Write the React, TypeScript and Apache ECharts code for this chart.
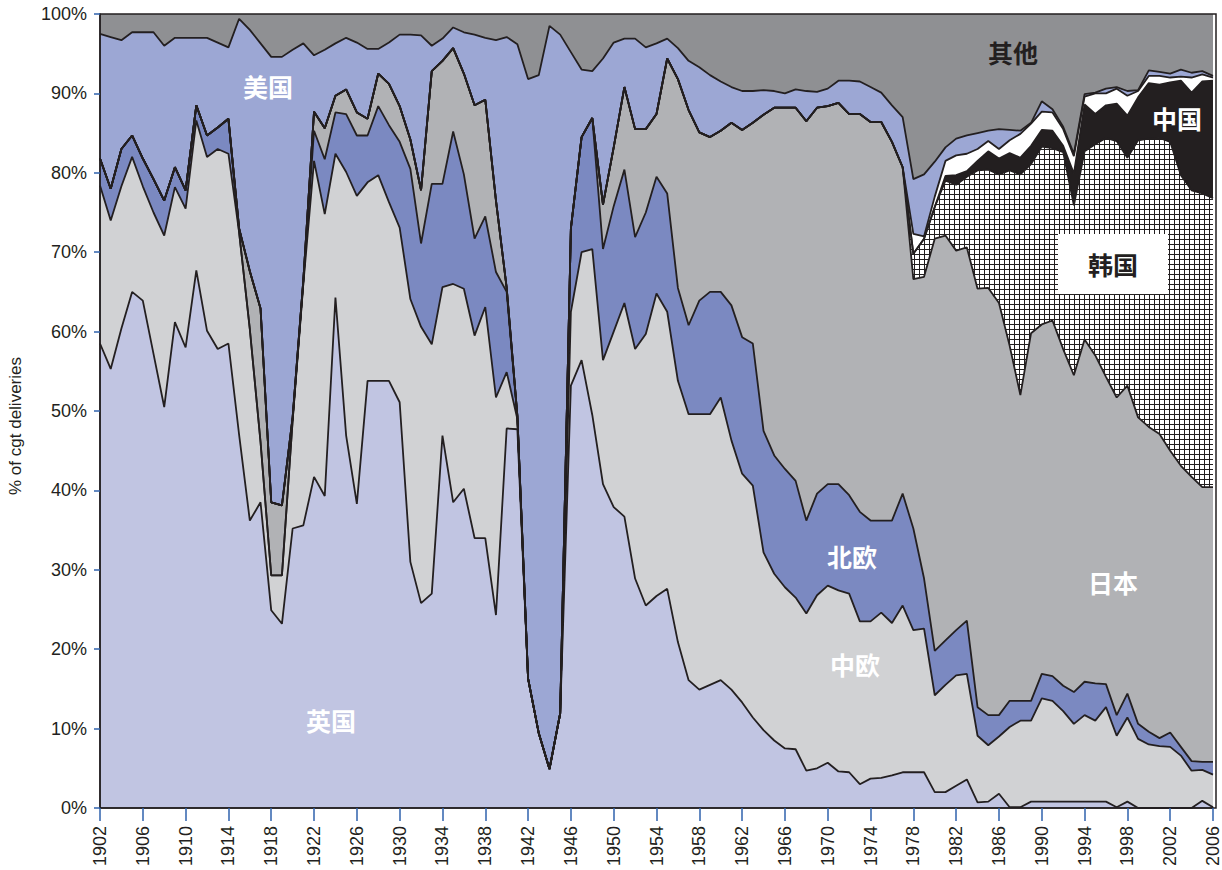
import React, { useEffect, useRef } from 'react';
import * as echarts from 'echarts';

const years: string[] = [];
for (let y = 1902; y <= 2006; y++) years.push(String(y));

// shares (% of cgt deliveries), 1902-2006, stacked bottom to top
const uk = [
  58.5, 55.3, 60.4, 65.0, 63.9, 57.2, 50.5, 61.2, 58.0, 67.7,
  60.1, 57.8, 58.5, 47.0, 36.2, 38.5, 24.9, 23.2, 35.2, 35.6,
  41.7, 39.3, 64.3, 46.9, 38.3, 53.8, 53.8, 53.8, 51.1, 31.0,
  25.8, 27.0, 46.9, 38.5, 40.2, 34.0, 34.0, 24.3, 47.8, 47.7,
  16.3, 9.4, 4.9, 11.9, 53.2, 56.4, 49.5, 40.8, 37.9, 36.7,
  28.9, 25.5, 26.7, 27.6, 20.9, 16.1, 14.9, 15.5, 16.1, 14.9,
  13.3, 11.4, 9.8, 8.5, 7.5, 7.4, 4.7, 5.0, 5.7, 4.6,
  4.5, 3.0, 3.7, 3.8, 4.1, 4.5, 4.5, 4.5, 2.0, 2.0,
  2.8, 3.6, 0.7, 0.8, 1.8, 0.1, 0.1, 0.8, 0.8, 0.8,
  0.8, 0.8, 0.8, 0.8, 0.8, 0.1, 0.8, 0, 0, 0,
  0, 0, 0, 0.9, 0.1,
];
const centralEurope = [
  19.9, 18.7, 17.9, 17.0, 14.4, 17.8, 21.6, 17.0, 17.5, 18.9,
  21.9, 25.2, 23.9, 25.5, 24.1, 7.6, 4.4, 6.1, 13.6, 30.4,
  39.8, 35.5, 18.1, 33.2, 38.8, 25.0, 25.9, 22.5, 22.0, 33.1,
  34.8, 31.4, 18.7, 27.5, 25.2, 25.5, 29.1, 27.4, 7.1, 1.3,
  0, 0, 0, 0, 9.3, 13.6, 20.9, 15.6, 22.1, 26.9,
  28.9, 34.2, 38.1, 34.9, 32.9, 33.5, 34.7, 34.1, 35.6, 31.4,
  28.8, 29.2, 22.4, 21.0, 20.3, 19.1, 19.8, 21.8, 22.3, 22.8,
  22.5, 20.5, 19.8, 20.8, 19.2, 21.0, 17.9, 18.1, 12.2, 13.5,
  13.9, 13.3, 8.4, 7.1, 7.2, 10.1, 10.9, 10.2, 13.0, 12.7,
  11.4, 9.8, 10.9, 10.2, 11.9, 9.0, 10.6, 8.7, 8.0, 7.8,
  7.7, 6.6, 4.7, 3.9, 4.1,
];
const northEurope = [
  3.4, 4.0, 4.7, 2.7, 3.5, 4.2, 4.4, 2.5, 2.3, 1.9,
  2.7, 2.7, 4.4, 0, 0, 0, 0, 0, 0, 0.2,
  3.8, 6.9, 5.2, 7.3, 7.6, 5.9, 8.7, 9.7, 10.8, 16.4,
  10.5, 20.2, 13.0, 19.2, 14.4, 12.2, 11.4, 15.8, 10.1, 0.2,
  0, 0, 0, 0, 10.5, 14.5, 16.5, 14.0, 15.8, 16.8,
  14.1, 15.3, 14.7, 14.9, 11.7, 11.2, 14.3, 15.4, 13.3, 17.0,
  17.2, 17.9, 15.3, 14.9, 14.9, 14.7, 11.7, 12.8, 12.8, 13.4,
  12.4, 13.8, 12.7, 11.6, 12.9, 14.1, 12.8, 6.3, 5.6, 5.6,
  5.7, 6.7, 3.6, 3.8, 2.7, 3.3, 2.5, 2.5, 3.1, 3.1,
  3.2, 4.0, 4.2, 4.7, 2.9, 2.6, 3.0, 1.9, 1.6, 1.0,
  1.8, 1.1, 1.2, 1.0, 1.6,
];
const japan = [
  0, 0, 0, 0, 0, 0, 0, 0, 0, 0,
  0, 0, 0, 0.5, 7.3, 16.8, 9.2, 8.8, 0.4, 0.3,
  2.4, 3.9, 2.1, 3.1, 2.9, 2.1, 4.1, 5.2, 4.5, 3.7,
  6.7, 14.2, 15.5, 10.5, 12.7, 16.8, 14.7, 9.0, 0.5, 0.2,
  0, 0, 0, 0, 0, 0, 0, 5.6, 7.4, 10.4,
  13.6, 10.5, 7.9, 17.0, 26.3, 27.1, 21.2, 19.5, 20.3, 23.0,
  26.1, 27.8, 39.8, 43.8, 45.5, 47.0, 50.3, 48.6, 47.6, 48.0,
  48.0, 50.1, 50.2, 50.2, 47.7, 41.1, 31.4, 38.0, 51.9, 51.0,
  47.8, 47.0, 52.7, 53.8, 51.9, 44.7, 38.5, 46.3, 44.0, 44.8,
  42.4, 39.9, 43.1, 41.3, 38.7, 40.0, 38.8, 38.6, 38.4, 38.3,
  35.5, 35.4, 35.8, 34.6, 34.6,
];
const korea = [
  0, 0, 0, 0, 0, 0, 0, 0, 0, 0,
  0, 0, 0, 0, 0, 0, 0, 0, 0, 0,
  0, 0, 0, 0, 0, 0, 0, 0, 0, 0,
  0, 0, 0, 0, 0, 0, 0, 0, 0, 0,
  0, 0, 0, 0, 0, 0, 0, 0, 0, 0,
  0, 0, 0, 0, 0, 0, 0, 0, 0, 0,
  0, 0, 0, 0, 0, 0, 0, 0, 0, 0,
  0, 0, 0, 0, 0, 0, 3.2, 4.8, 4.0, 6.9,
  8.3, 8.9, 14.9, 14.9, 16.2, 22.1, 27.8, 21.3, 22.4, 21.7,
  24.8, 21.4, 23.7, 26.6, 30.1, 32.3, 28.7, 34.9, 36.3, 37.3,
  38.9, 36.6, 36.1, 37.0, 36.4,
];
const china = [
  0, 0, 0, 0, 0, 0, 0, 0, 0, 0,
  0, 0, 0, 0, 0, 0, 0, 0, 0, 0,
  0, 0, 0, 0, 0, 0, 0, 0, 0, 0,
  0, 0, 0, 0, 0, 0, 0, 0, 0, 0,
  0, 0, 0, 0, 0, 0, 0, 0, 0, 0,
  0, 0, 0, 0, 0, 0, 0, 0, 0, 0,
  0, 0, 0, 0, 0, 0, 0, 0, 0, 0,
  0, 0, 0, 0, 0, 0, 0, 0, 0, 0.6,
  1.2, 0.7, 1.2, 2.3, 2.0, 2.2, 2.1, 2.3, 2.1, 2.2,
  0.8, 4.0, 5.9, 3.8, 4.1, 4.7, 5.3, 5.4, 7.0, 6.7,
  7.5, 11.9, 12.3, 14.1, 14.8,
];
const otherAsia = [
  0, 0, 0, 0, 0, 0, 0, 0, 0, 0,
  0, 0, 0, 0, 0, 0, 0, 0, 0, 0,
  0, 0, 0, 0, 0, 0, 0, 0, 0, 0,
  0, 0, 0, 0, 0, 0, 0, 0, 0, 0,
  0, 0, 0, 0, 0, 0, 0, 0, 0, 0,
  0, 0, 0, 0, 0, 0, 0, 0, 0, 0,
  0, 0, 0, 0, 0, 0, 0, 0, 0, 0,
  0, 0, 0, 0, 0, 0, 2.5, 0.3, 1.3, 1.9,
  2.5, 2.2, 1.5, 1.3, 1.2, 1.6, 3.0, 2.8, 2.3, 2.3,
  2.1, 2.2, 1.0, 2.6, 1.5, 1.9, 2.5, 0.8, 0.9, 1.1,
  0.6, 0.5, 1.9, 0.9, 0.4,
];
const usa = [
  15.7, 19.1, 13.7, 13.0, 15.9, 18.5, 19.5, 16.3, 19.2, 8.5,
  12.3, 10.7, 9.0, 26.4, 30.4, 33.4, 56.1, 56.5, 46.3, 29.8,
  7.1, 9.9, 6.6, 6.5, 8.8, 8.8, 3.1, 5.2, 9.0, 13.2,
  19.5, 3.2, 2.8, 2.6, 5.2, 8.9, 7.8, 20.2, 31.6, 46.8,
  75.5, 82.9, 93.6, 85.5, 22.2, 8.5, 5.9, 18.4, 13.2, 6.1,
  11.4, 10.3, 8.9, 2.5, 3.9, 6.2, 8.2, 7.8, 6.2, 4.5,
  4.9, 4.0, 3.1, 2.1, 1.8, 2.3, 3.8, 2.0, 2.2, 2.8,
  4.2, 4.1, 4.4, 3.7, 4.6, 6.3, 6.9, 7.8, 4.4, 1.7,
  2.1, 2.3, 2.0, 1.3, 2.5, 1.3, 0.4, 0.1, 1.3, 0.4,
  0.3, 0.3, 0.3, 0.1, 0.6, 0.2, 0.6, 0.1, 0.7, 0.5,
  0.5, 0.9, 0.6, 0.4, 0.2,
];
const others = [
  2.5, 2.9, 3.3, 2.3, 2.3, 2.3, 4.0, 3.0, 3.0, 3.0,
  3.0, 3.6, 4.2, 0.6, 2.0, 3.7, 5.4, 5.4, 4.5, 3.7,
  5.2, 4.5, 3.7, 3.0, 3.6, 4.4, 4.4, 3.6, 2.6, 2.6,
  2.7, 4.0, 3.1, 1.7, 2.4, 2.6, 3.0, 3.3, 2.9, 3.8,
  8.2, 7.7, 1.5, 2.6, 4.8, 7.0, 7.2, 5.6, 3.6, 3.1,
  3.1, 4.2, 3.7, 3.1, 4.3, 5.9, 6.7, 7.7, 8.5, 9.2,
  9.7, 9.7, 9.6, 9.7, 10.0, 9.5, 9.7, 9.8, 9.4, 8.4,
  8.4, 8.5, 9.2, 9.9, 11.5, 13.0, 20.8, 20.2, 18.6, 16.8,
  15.7, 15.3, 15.0, 14.8, 14.6, 14.6, 14.7, 13.7, 11.1, 12.0,
  14.2, 17.6, 10.2, 9.9, 9.4, 9.2, 9.7, 9.6, 7.1, 7.3,
  7.5, 7.0, 7.4, 7.2, 7.8,
];

const yTicks = [0, 10, 20, 30, 40, 50, 60, 70, 80, 90, 100];

const INK = '#231f20';
const TICK = '#2f62ad';

function makeHatch(): HTMLCanvasElement {
  const c = document.createElement('canvas');
  c.width = 5;
  c.height = 5;
  const ctx = c.getContext('2d')!;
  ctx.fillStyle = '#ffffff';
  ctx.fillRect(0, 0, 5, 5);
  ctx.fillStyle = INK;
  ctx.fillRect(4, 0, 1, 5);
  ctx.fillRect(0, 4, 5, 1);
  return c;
}

export default function App() {
  const ref = useRef<HTMLDivElement>(null);
  useEffect(() => {
    document.body.style.margin = '0';
    const chart = echarts.init(ref.current!, undefined, { renderer: 'svg' });
    const hatch: any = { image: makeHatch(), repeat: 'repeat', imageWidth: 5, imageHeight: 5 };
    const layers: { name: string; data: number[]; color: any; line: boolean }[] = [
      { name: '英国', data: uk, color: '#c1c5e2', line: true },
      { name: '中欧', data: centralEurope, color: '#d1d2d4', line: true },
      { name: '北欧', data: northEurope, color: '#7b89c1', line: true },
      { name: '日本', data: japan, color: '#b1b2b5', line: true },
      { name: '韩国', data: korea, color: hatch, line: true },
      { name: '中国', data: china, color: INK, line: true },
      { name: '其他亚洲', data: otherAsia, color: '#ffffff', line: true },
      { name: '美国', data: usa, color: '#9ca7d4', line: true },
      { name: '其他', data: others, color: '#8f9093', line: false },
    ];
    const series: any[] = [];
    layers.forEach((l) => {
      series.push({
        name: l.name,
        type: 'line',
        stack: 'areas',
        data: l.data,
        symbol: 'none',
        showSymbol: false,
        silent: true,
        lineStyle: { width: 0, opacity: 0 },
        areaStyle: { color: l.color, opacity: 1 },
        z: 2,
      });
    });
    layers.forEach((l) => {
      series.push({
        name: l.name + '-边线',
        type: 'line',
        stack: 'lines',
        data: l.data,
        symbol: 'none',
        showSymbol: false,
        silent: true,
        lineStyle: { width: l.line ? 1.8 : 0, color: INK, opacity: l.line ? 1 : 0 },
        z: 3,
      });
    });

    const cjk = '"Noto Sans CJK SC", "Noto Sans", sans-serif';
    const labels = [
      { text: '美国', x: 268, y: 86, color: '#ffffff' },
      { text: '英国', x: 331, y: 720, color: '#ffffff' },
      { text: '北欧', x: 852, y: 556, color: '#ffffff' },
      { text: '中欧', x: 855, y: 664, color: '#ffffff' },
      { text: '日本', x: 1113, y: 582, color: '#ffffff' },
      { text: '其他', x: 1013, y: 52, color: INK },
      { text: '中国', x: 1177, y: 118, color: '#ffffff' },
      { text: '韩国', x: 1113, y: 264, color: INK },
    ];

    const graphic: any[] = [
      {
        type: 'rect',
        z: 10,
        shape: { x: 1058, y: 234, width: 110, height: 60 },
        style: { fill: '#ffffff' },
      },
      ...labels.map((l) => ({
        type: 'text',
        z: 11,
        x: l.x,
        y: l.y,
        style: {
          text: l.text,
          fill: l.color,
          font: `bold 25px ${cjk}`,
          align: 'center',
          verticalAlign: 'middle',
        },
      })),
      {
        type: 'rect',
        z: 12,
        shape: { x: 100, y: 14, width: 1116, height: 794 },
        style: { fill: 'none', stroke: INK, lineWidth: 1.5 },
      },
      {
        type: 'text',
        z: 12,
        x: 15,
        y: 426,
        rotation: Math.PI / 2,
        style: {
          text: '% of cgt deliveries',
          fill: INK,
          font: '17px "Liberation Sans", Arial, sans-serif',
          align: 'center',
          verticalAlign: 'middle',
        },
      },
    ];

    chart.setOption({
      animation: false,
      backgroundColor: '#ffffff',
      grid: { left: 100, right: 6, top: 14, bottom: 62, containLabel: false },
      xAxis: {
        type: 'category',
        data: years,
        boundaryGap: false,
        axisLine: { show: true, lineStyle: { color: INK, width: 1.5 } },
        axisTick: { show: true, interval: 3, length: 13, lineStyle: { color: TICK, width: 1.5 } },
        axisLabel: {
          interval: 3,
          rotate: 90,
          margin: 18,
          fontSize: 18,
          color: INK,
          fontFamily: '"Liberation Sans", Arial, sans-serif',
        },
        splitLine: { show: false },
        z: 12,
      },
      yAxis: {
        type: 'value',
        min: yTicks[0],
        max: yTicks[yTicks.length - 1],
        interval: 10,
        axisLine: { show: true, lineStyle: { color: INK, width: 1.5 } },
        axisTick: { show: true, length: 6, lineStyle: { color: TICK, width: 1.5 } },
        axisLabel: {
          formatter: '{value}%',
          margin: 13,
          fontSize: 18,
          color: INK,
          fontFamily: '"Liberation Sans", Arial, sans-serif',
        },
        splitLine: { show: false },
        z: 12,
      },
      series,
      graphic,
    });
    return () => chart.dispose();
  }, []);
  return <div ref={ref} style={{ width: 1222, height: 870 }} />;
}
